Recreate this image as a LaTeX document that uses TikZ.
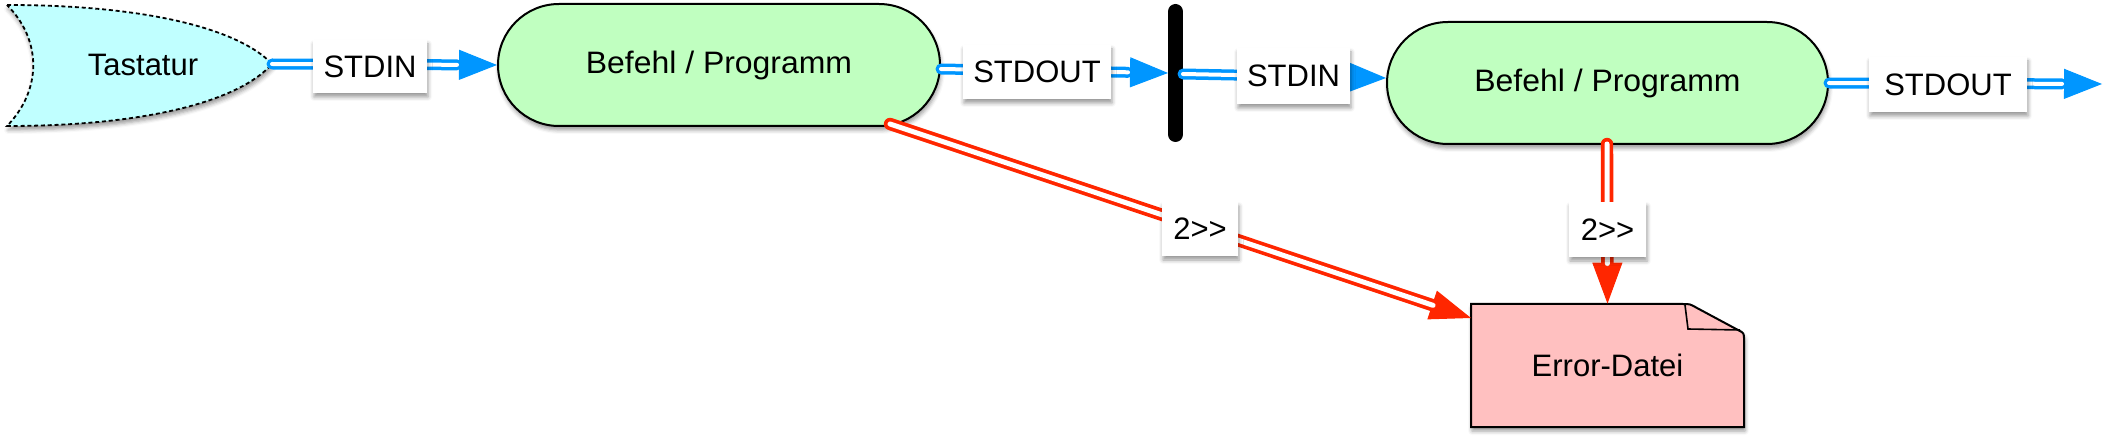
\documentclass[tikz,border=0pt]{standalone}
\usepackage{fontspec}
\usepackage{graphicx}
\setmainfont{Liberation Sans}
\usetikzlibrary{shapes.misc,arrows.meta,shadows.blur,calc}
\definecolor{cblue}{RGB}{0,150,255}
\definecolor{cred}{RGB}{255,38,0}
\definecolor{cgreen}{RGB}{192,255,192}
\definecolor{ccyan}{RGB}{192,255,255}
\definecolor{cpink}{RGB}{255,192,192}
\begin{document}
\begin{tikzpicture}[x=0.5pt,y=-0.5pt,
  font=\fontsize{15.5}{18}\selectfont,
  shad/.style={blur shadow={shadow xshift=0.5pt, shadow yshift=-2pt, shadow blur radius=2pt, shadow opacity=40}},
  proc/.style={rounded rectangle, draw=black, line width=1pt, fill=cgreen, inner sep=0pt, shad},
  lab/.style={fill=white, inner sep=0pt, shad},
  bline/.style={draw=cblue, line width=1.75pt, double=white, double distance=2pt, line cap=round, shorten >=20pt},
  btip/.style={draw=cblue, line width=0.5pt, -{Triangle[length=19pt,width=15pt]}},
  rline/.style={draw=cred, line width=1.85pt, double=white, double distance=2.5pt, line cap=round, shorten >=20pt},
  rtip/.style={draw=cred, line width=0.5pt, -{Triangle[length=20.5pt,width=15pt]}}
]
\useasboundingbox (0,0) rectangle (2126,438);
% Tastatur
\path[draw=black, line width=0.9pt, dash pattern=on 2pt off 1.4pt, fill=ccyan, shad]
  (7,5) .. controls (150,5) and (240,30) .. (272,64)
  .. controls (240,100) and (150,126) .. (7,126)
  .. controls (42,90) and (42,40) .. (7,5) -- cycle;
\node (tast) at (143,65) {Tastatur};
\coordinate (tastR) at (272,64);
% processes
\node[proc, minimum width=221pt, minimum height=61pt] (b1) at (719,65) {\scalebox{1.03}[1]{Befehl / Programm}};
\node[proc, minimum width=220.5pt, minimum height=61pt] (b2) at (1607.5,83) {\scalebox{1.03}[1]{Befehl / Programm}};
% error file
\path[draw=black, line width=1pt, fill=cpink, shad]
  (1471,304) -- (1683,304) .. controls (1690,304) .. (1697,308) -- (1738,330)
  .. controls (1744,333) .. (1744,340) -- (1744,427) -- (1471,427) -- cycle;
\draw[line width=0.8pt] (1685,305) -- (1688,329) -- (1740,330);
\node[minimum width=136.5pt, minimum height=61.5pt] (err) at (1607.5,365.5) {Error-Datei};
% bar
\coordinate (barT) at (1175.5,11.5);
\coordinate (barB) at (1175.5,134.5);
\draw[line width=7.5pt, line cap=round] (barT) -- (barB);
\coordinate (barL) at (1168,73);
\coordinate (barR) at (1183,74);
\coordinate (outR) at (2102,84);
\coordinate (r1s) at (890,124);
\coordinate (errL) at (1471,318);
\coordinate (r2s) at (1607,144);
\coordinate (b1out) at ($(b1.east)+(0,4)$);
\coordinate (b2in) at ($(b2.west)+(0,-5)$);
% connectors
\draw[btip] (tastR) -- (b1.west);
\draw[bline] (tastR) -- (b1.west);
\draw[btip] (b1out) -- (barL);
\draw[bline] (b1out) -- (barL);
\draw[btip] (barR) -- (b2in);
\draw[bline] (barR) -- (b2in);
\draw[btip] (b2.east) -- (outR);
\draw[bline] (b2.east) -- (outR);
\draw[rtip] (r1s) -- (errL);
\draw[rline] (r1s) -- (errL);
\draw[rtip] (r2s) -- (err.north);
\draw[rline] (r2s) -- (err.north);
% labels
\node[lab, minimum width=57pt, minimum height=26.5pt] (l1) at (370,66.5) {STDIN};
\node[lab, minimum width=74pt, minimum height=27pt] (l2) at (1037,72) {STDOUT};
\node[lab, minimum width=56.5pt, minimum height=28pt] (l3) at (1293.5,76) {STDIN};
\node[lab, minimum width=79pt, minimum height=27.5pt] (l4) at (1948,84.5) {STDOUT};
\node[lab, minimum width=38pt, minimum height=27pt] (l5) at (1200,229) {2>\kern0pt>};
\node[lab, minimum width=38.5pt, minimum height=27.5pt] (l6) at (1607.5,229.5) {2>\kern0pt>};
\end{tikzpicture}
\end{document}
